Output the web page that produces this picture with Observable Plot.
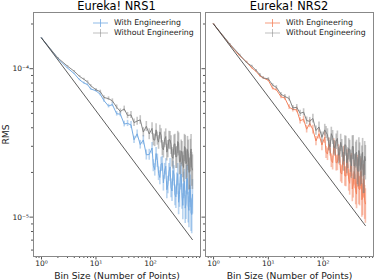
<!DOCTYPE html>
<html><head><meta charset="utf-8">
<script src="https://cdn.jsdelivr.net/npm/d3@7"></script>
<script src="https://cdn.jsdelivr.net/npm/@observablehq/plot@0.6"></script>
<style>
body{margin:0;background:#fff;font-family:"DejaVu Sans",sans-serif;}
#wrap{position:relative;width:374px;height:280px;overflow:hidden;background:#fff}
#wrap svg{position:absolute;top:0;background:transparent}
.title{position:absolute;top:0;font-size:11.4px;line-height:13px;color:#000;transform:translateX(-50%);white-space:nowrap}
.leg{position:absolute;font-size:7.8px;line-height:10.6px;color:#222;white-space:nowrap}
.leg div{display:flex;align-items:center}
.leg svg{position:static !important;margin-right:6px}
g[aria-label="x-axis label"] text, g[aria-label="y-axis label"] text{font-size:9.2px}
</style></head><body><div id="wrap"></div><script>
const bins=[1,2,3,4,5,6,7,8,10,12,14,17,20,24,28,33,38,44,50,57,65,74,84,95,107,113,120,127,134,141,149,157,165,173,182,191,200,209,219,229,239,249,260,271,282,293,305,317,329,341,354,367,380,393,407,421,435,449,464,479,494,509,525,541,557,573,590];
const nrs1With=[1.61e-4,1.17e-4,1.01e-4,9.25e-5,8.41e-5,8.01e-5,7.81e-5,7.30e-5,7.10e-5,6.71e-5,6.10e-5,5.60e-5,5.73e-5,4.97e-5,4.94e-5,4.24e-5,4.28e-5,4.18e-5,3.32e-5,3.64e-5,3.08e-5,3.31e-5,2.63e-5,2.64e-5,
2.92e-5,2.23e-5,2.09e-5,2.68e-5,2.41e-5,1.97e-5,1.85e-5,2.28e-5,2.31e-5,1.70e-5,2.05e-5,2.20e-5,1.53e-5,1.66e-5,2.02e-5,2.18e-5,1.58e-5,1.50e-5,2.06e-5,1.92e-5,1.42e-5,1.37e-5,1.70e-5,1.96e-5,1.26e-5,1.42e-5,1.87e-5,1.95e-5,1.40e-5,1.20e-5,1.67e-5,1.74e-5,1.15e-5,1.23e-5,1.83e-5,1.82e-5,1.19e-5,1.11e-5,1.65e-5,1.54e-5,1.07e-5,1.04e-5,1.42e-5];
const nrs1Without=[1.61e-4,1.18e-4,1.04e-4,9.60e-5,8.87e-5,8.48e-5,8.15e-5,7.68e-5,7.21e-5,7.00e-5,6.40e-5,6.28e-5,6.07e-5,5.50e-5,5.15e-5,5.36e-5,4.84e-5,4.88e-5,4.33e-5,4.44e-5,4.52e-5,3.74e-5,4.09e-5,3.63e-5,
3.96e-5,3.33e-5,3.30e-5,3.87e-5,3.40e-5,3.20e-5,3.75e-5,3.55e-5,2.94e-5,2.84e-5,3.34e-5,3.49e-5,2.74e-5,2.90e-5,3.33e-5,3.31e-5,3.09e-5,2.56e-5,2.49e-5,3.09e-5,3.12e-5,2.54e-5,2.56e-5,3.23e-5,3.14e-5,2.36e-5,2.36e-5,2.78e-5,2.71e-5,2.30e-5,2.16e-5,2.99e-5,2.93e-5,2.29e-5,2.35e-5,2.85e-5,2.68e-5,2.00e-5,2.02e-5,2.68e-5,2.88e-5,2.17e-5,2.08e-5];
const nrs2With=[2.00e-4,1.45e-4,1.22e-4,1.11e-4,1.01e-4,9.58e-5,8.93e-5,8.67e-5,8.35e-5,7.36e-5,7.22e-5,6.47e-5,6.34e-5,5.51e-5,5.31e-5,5.28e-5,4.46e-5,4.56e-5,3.91e-5,4.27e-5,3.89e-5,3.26e-5,3.64e-5,3.06e-5,
3.45e-5,2.74e-5,2.66e-5,3.10e-5,2.87e-5,2.41e-5,2.33e-5,3.03e-5,2.89e-5,2.32e-5,2.34e-5,2.73e-5,2.56e-5,1.99e-5,1.95e-5,2.38e-5,2.62e-5,1.90e-5,1.89e-5,2.46e-5,2.25e-5,1.79e-5,1.69e-5,2.23e-5,2.28e-5,1.55e-5,1.65e-5,2.03e-5,1.93e-5,1.51e-5,1.43e-5,2.16e-5,2.00e-5,1.55e-5,1.53e-5,1.98e-5,2.03e-5,1.31e-5,1.35e-5,1.81e-5,1.79e-5,1.30e-5,1.23e-5];
const nrs2Without=[2.00e-4,1.46e-4,1.24e-4,1.10e-4,1.04e-4,9.73e-5,9.11e-5,8.67e-5,8.53e-5,7.74e-5,7.49e-5,6.72e-5,6.50e-5,6.29e-5,5.44e-5,5.49e-5,5.00e-5,5.10e-5,4.47e-5,4.42e-5,4.62e-5,3.83e-5,4.05e-5,3.45e-5,
3.87e-5,3.73e-5,3.59e-5,3.11e-5,2.98e-5,3.65e-5,3.46e-5,2.95e-5,2.93e-5,3.24e-5,3.39e-5,2.61e-5,2.66e-5,3.19e-5,2.93e-5,2.61e-5,2.38e-5,3.08e-5,3.04e-5,2.32e-5,2.53e-5,2.90e-5,2.82e-5,2.42e-5,2.21e-5,2.99e-5,2.99e-5,2.21e-5,2.23e-5,2.67e-5,2.74e-5,2.09e-5,2.03e-5,2.81e-5,2.59e-5,2.09e-5,2.16e-5,2.44e-5,2.73e-5,1.91e-5,1.93e-5,2.57e-5,2.41e-5];
const relErr=[.005,.008,.01,.012,.014,.016,.017,.018,.02,.023,.026,.029,.032,.036,.04,.044,.048,.053,.057,.062,.067,.072,.078,.084,
.09,.093,.096,.099,.102,.105,.108,.1115,.115,.1185,.122,.126,.13,.1335,.137,.141,.145,.149,.153,.1565,.16,.164,.168,.172,.176,.1805,.185,.1895,.194,.1985,.203,.2075,.212,.217,.222,.227,.232,.237,.242,.247,.252,.257,.262];
const theoryBins=[1,590];
const nrs1Theory=[1.61e-4,7.05e-6];
const nrs2Theory=[2.00e-4,8.77e-6];
const titles=["Eureka! NRS1","Eureka! NRS2"];
const seriesNames=["With Engineering","Without Engineering"];
const xMajor=[1,10,100];
const xTickLabels=["10\u2070","10\u00b9","10\u00b2"];
const xMinor=[0.8,0.9,2,3,4,5,6,7,8,9,20,30,40,50,60,70,80,90,200,300,400,500,600,700,800];
const yMajor=[1e-5,1e-4];
const yTickLabels=["10\u207b\u2075","10\u207b\u2074"];
const yMinor=[6e-6,7e-6,8e-6,9e-6,2e-5,3e-5,4e-5,5e-5,6e-5,7e-5,8e-5,9e-5,2e-4];
const xDomain=[0.713,830];
const yDomain=[5.43e-6,2.39e-4];
const colors={nrs1:"#74aae2",nrs2:"#f4845f",without:"#7f7f7f",theory:"#333333"};

function panel(withVals,withoutVals,theoryVals,color,showY,width,ml){
  const rows=bins.map((n,i)=>({n,w:withVals[i],wo:withoutVals[i],e:relErr[i]}));
  const th=theoryBins.map((n,i)=>({n,v:theoryVals[i]}));
  return Plot.plot({
    width,height:280,marginLeft:ml,marginRight:1,marginTop:12,marginBottom:24,
    x:{type:"log",domain:xDomain},
    y:{type:"log",domain:yDomain},
    style:{fontFamily:"DejaVu Sans",fontSize:"7.5px",background:"transparent",color:"#222"},
    marks:[
      Plot.ruleX(rows,{x:"n",y1:d=>d.w*(1-d.e),y2:d=>d.w*(1+d.e),stroke:color,strokeOpacity:0.5,strokeWidth:1.6}),
      Plot.line(rows,{x:"n",y:"w",stroke:color,strokeWidth:1}),
      Plot.ruleX(rows,{x:"n",y1:d=>d.wo*(1-d.e),y2:d=>d.wo*(1+d.e),stroke:colors.without,strokeOpacity:0.45,strokeWidth:1.6}),
      Plot.line(rows,{x:"n",y:"wo",stroke:colors.without,strokeWidth:1,strokeOpacity:0.95}),
      Plot.line(th,{x:"n",y:"v",stroke:colors.theory,strokeWidth:0.8}),
      Plot.axisX({ticks:xMinor,tickSize:2,tickFormat:()=>"",label:null,stroke:"#555"}),
      Plot.axisX({ticks:xMajor,tickSize:3.5,tickPadding:0.5,tickFormat:d=>xTickLabels[xMajor.indexOf(d)],stroke:"#555",
        label:"Bin Size (Number of Points)",labelAnchor:"center",labelArrow:"none",labelOffset:22}),
      Plot.axisY({ticks:yMinor,tickSize:2,tickFormat:()=>"",label:null,stroke:"#555"}),
      Plot.axisY({ticks:yMajor,tickSize:3.5,tickPadding:1,stroke:"#555",
        tickFormat:showY?(d=>yTickLabels[yMajor.indexOf(d)]):(()=>""),
        label:showY?"RMS":null,labelAnchor:"center",labelArrow:"none",labelOffset:31}),
      Plot.frame({stroke:"#888",strokeWidth:1})
    ]
  });
}
const wrap=document.getElementById("wrap");
const p1=panel(nrs1With,nrs1Without,nrs1Theory,colors.nrs1,true,201,33);
p1.style.left="0px";
const p2=panel(nrs2With,nrs2Without,nrs2Theory,colors.nrs2,false,174,5);
p2.style.left="200px";
wrap.appendChild(p1);wrap.appendChild(p2);

function handle(c,op){
  return `<svg width="15" height="8" viewBox="0 0 15 8"><line x1="0" y1="4" x2="15" y2="4" stroke="${c}" stroke-opacity="${op}" stroke-width="1"/><line x1="7.5" y1="0" x2="7.5" y2="8" stroke="${c}" stroke-opacity="${op}" stroke-width="1"/></svg>`;
}
[[116.5,93,colors.nrs1],[289,265,colors.nrs2]].forEach(([cx,lx,c],i)=>{
  const t=document.createElement("div");t.className="title";t.style.left=cx+"px";t.textContent=titles[i];wrap.appendChild(t);
  const l=document.createElement("div");l.className="leg";l.style.left=lx+"px";l.style.top="17.5px";
  l.innerHTML=`<div>${handle(c,0.8)}${seriesNames[0]}</div><div>${handle(colors.without,0.5)}${seriesNames[1]}</div>`;
  wrap.appendChild(l);
});
</script></body></html>
